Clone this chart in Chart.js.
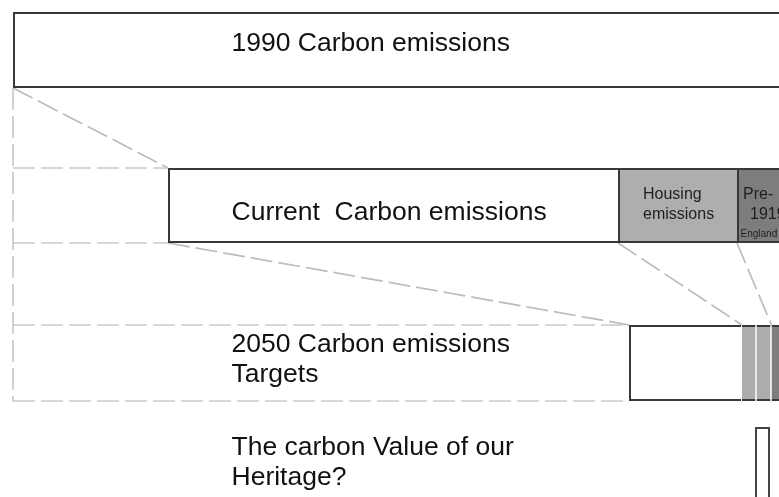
<!DOCTYPE html>
<html>
<head>
<meta charset="utf-8">
<script src="https://cdn.jsdelivr.net/npm/chart.js@4/dist/chart.umd.min.js"></script>
<style>
  html, body { margin: 0; padding: 0; background: #fff; }
  #carbon { display: block; }
</style>
</head>
<body>
<canvas id="carbon" width="779" height="497"></canvas>
<script>
// Row bands on the vertical axis: [top, bottom]
const rowBands = [[12, 88], [168, 243], [325, 401], [427, 520]];

// Row titles, one entry per line
const rowTitles = [
  ['1990 Carbon emissions'],
  ['Current  Carbon emissions'],
  ['2050 Carbon emissions', 'Targets'],
  ['The carbon Value of our', 'Heritage?']
];

// Horizontal extents of each block: [start, end]
const emissions1990 = [[13, 800]];
const emissionsCurrent = [[168, 618], [618, 737], [737, 800]]; // other, housing, pre-1919
const emissions2050 = [[629, 741], [742, 755.5], [756.5, 770.5], [771.5, 800]];
const heritageValue = [[755, 770]];

const housingLabel = ['Housing', 'emissions'];
const preLabel = ['Pre-', '1919', 'England'];

(function () {
  'use strict';

  const EDGE = '#383838';
  const GUIDE = '#c9c9c9';
  const SLANT = '#bcbcbc';
  const FONT = '"Liberation Sans", Arial, sans-serif';

  const mid = (b) => (b[0] + b[1]) / 2;
  const thick = (b) => b[1] - b[0];

  function blockSet(segs, row, colors, borders) {
    return {
      type: 'bar',
      indexAxis: 'y',
      grouped: false,
      order: 1,
      data: segs.map(s => ({ x: s, y: mid(rowBands[row]) })),
      backgroundColor: colors,
      borderColor: EDGE,
      borderWidth: borders,
      borderSkipped: false,
      inflateAmount: 0,
      barThickness: thick(rowBands[row])
    };
  }

  function guide(points, color) {
    return {
      type: 'line',
      order: 2,
      data: points.map(p => ({ x: p[0], y: p[1] })),
      borderColor: color,
      borderWidth: 1.7,
      borderDash: [22, 6],
      pointRadius: 0,
      tension: 0,
      fill: false
    };
  }

  const x0 = emissions1990[0][0];
  const b0 = rowBands[0], b1 = rowBands[1], b2 = rowBands[2];
  const curStart = emissionsCurrent[0][0];
  const tgtStart = emissions2050[0][0];

  const guides = [
    guide([[x0, b0[1]], [x0, b2[1]]], GUIDE),
    guide([[x0, b1[0]], [curStart, b1[0]]], GUIDE),
    guide([[x0, b1[1]], [curStart, b1[1]]], GUIDE),
    guide([[x0, b2[0]], [tgtStart, b2[0]]], GUIDE),
    guide([[x0, b2[1]], [tgtStart, b2[1]]], GUIDE),
    guide([[x0, b0[1]], [curStart, b1[0]]], SLANT),
    guide([[curStart, b1[1]], [tgtStart, b2[0]]], SLANT),
    guide([[emissionsCurrent[1][0], b1[1]], [emissions2050[1][0], b2[0]]], SLANT),
    guide([[emissionsCurrent[2][0], b1[1]], [emissions2050[3][0], b2[0]]], SLANT)
  ];

  // shared edges are drawn once, by the block on the right
  const edge = 2;
  const openRight = { top: edge, left: edge, bottom: edge, right: 0 };
  const topBottom = { top: edge, left: 0, bottom: edge, right: 0 };
  const blocks = [
    blockSet(emissions1990, 0, ['#fff'], edge),
    blockSet(emissionsCurrent, 1, ['#fff', '#aeaeae', '#7d7d7d'], [openRight, openRight, edge]),
    blockSet(emissions2050, 2, ['#fff', '#adadad', '#adadad', '#7e7e7e'], [
      openRight, topBottom, topBottom, topBottom
    ]),
    blockSet(heritageValue, 3, ['#fff'], edge)
  ];
  blocks[3].borderColor = '#444';

  // Titles and block captions, placed through the scales
  const captions = {
    id: 'captions',
    afterDatasetsDraw(chart) {
      const { ctx, scales: { x, y } } = chart;
      ctx.save();
      ctx.fillStyle = '#111';
      ctx.textAlign = 'left';
      ctx.textBaseline = 'alphabetic';

      const titleX = 231.5;
      const titleBase = [[51], [220], [352, 382], [455, 485]];
      ctx.font = '26.5px ' + FONT;
      rowTitles.forEach((lines, i) => {
        lines.forEach((t, j) => {
          ctx.fillText(t, x.getPixelForValue(titleX), y.getPixelForValue(titleBase[i][j]));
        });
      });

      ctx.font = '16px ' + FONT;
      ctx.fillStyle = '#1e1e1e';
      housingLabel.forEach((t, j) => {
        ctx.fillText(t, x.getPixelForValue(643), y.getPixelForValue(199 + j * 20));
      });
      ctx.fillText(preLabel[0], x.getPixelForValue(743), y.getPixelForValue(199));
      ctx.fillText(preLabel[1], x.getPixelForValue(750), y.getPixelForValue(219));
      ctx.font = '10px ' + FONT;
      ctx.fillText(preLabel[2], x.getPixelForValue(740.5), y.getPixelForValue(237));
      ctx.restore();
    }
  };

  new Chart(document.getElementById('carbon'), {
    type: 'bar',
    data: { datasets: guides.concat(blocks) },
    options: {
      responsive: false,
      animation: false,
      events: [],
      layout: { padding: 0 },
      plugins: { legend: { display: false }, tooltip: { enabled: false } },
      scales: {
        x: { type: 'linear', min: 0, max: 779, offset: false, display: false },
        y: { type: 'linear', min: 0, max: 497, offset: false, reverse: true, display: false }
      }
    },
    plugins: [captions]
  });
})();
</script>
</body>
</html>
